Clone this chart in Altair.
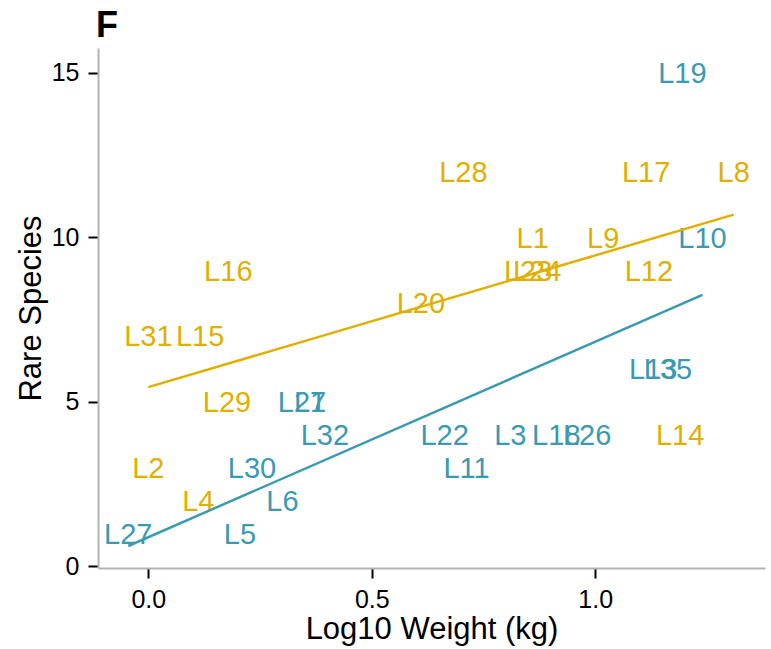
import altair as alt
import pandas as pd

# ---- data ----
labels = ["L16", "L31", "L15", "L28", "L17", "L8", "L1", "L9", "L23", "L24",
          "L12", "L20", "L29", "L2", "L4", "L14",
          "L19", "L10", "L13", "L35", "L21", "L7", "L32", "L30", "L6", "L5",
          "L27", "L22", "L11", "L3", "L18", "L26"]
log_weight = [0.179, 0.0, 0.116, 0.705, 1.114, 1.31, 0.86, 1.018, 0.85, 0.87,
              1.12, 0.61, 0.176, 0.0, 0.112, 1.19,
              1.195, 1.24, 1.13, 1.163, 0.344, 0.362, 0.395, 0.232, 0.30, 0.205,
              -0.045, 0.663, 0.712, 0.81, 0.913, 0.982]
rare_species = [9, 7, 7, 12, 12, 12, 10, 10, 9, 9,
                9, 8, 5, 3, 2, 4,
                15, 10, 6, 6, 5, 5, 4, 3, 2, 1,
                1, 4, 3, 4, 4, 4]
group = ["gold"] * 16 + ["blue"] * 16

group_names = ["gold", "blue"]
group_colors = ["#E1AF00", "#3B9AB2"]
x_ticks = [0.0, 0.5, 1.0]
y_ticks = [0, 5, 10, 15]

df = pd.DataFrame({"label": labels, "x": log_weight, "y": rare_species, "group": group})

color_scale = alt.Scale(domain=group_names, range=group_colors)
FONT = "Liberation Sans"

x_enc = alt.X("x:Q",
              scale=alt.Scale(domain=[-0.1126, 1.38], nice=False, zero=False),
              axis=alt.Axis(values=x_ticks, format=".1f", title="Log10 Weight (kg)",
                            titleY=70, titleBaseline="alphabetic"))
y_enc = alt.Y("y:Q",
              scale=alt.Scale(domain=[-0.06, 15.75], nice=False, zero=False),
              axis=alt.Axis(values=y_ticks, title="Rare Species",
                            titleX=-58, titleY=260, titleBaseline="alphabetic"))

text = alt.Chart(df).mark_text(
    fontSize=29, font=FONT, align="center", baseline="middle", dy=1.5
).encode(
    x=x_enc, y=y_enc, text="label:N",
    color=alt.Color("group:N", scale=color_scale, legend=None),
)

lines = alt.Chart(df).transform_regression(
    "x", "y", groupby=["group"]
).mark_line(strokeWidth=2.5).encode(
    x="x:Q", y="y:Q",
    color=alt.Color("group:N", scale=color_scale, legend=None),
)

chart = alt.layer(text, lines).properties(
    width=667, height=520,
    title=alt.TitleParams("F", anchor="start", fontSize=36, fontWeight="bold",
                          font=FONT, color="black", offset=10, frame="group",
                          baseline="alphabetic", dx=-2, dy=35),
    padding={"left": 98, "top": 48, "right": 6, "bottom": 81},
    autosize="none",
).configure_view(stroke=None).configure_axis(
    grid=False,
    domainColor="#B3B3B3", domainWidth=2,
    tickColor="black", tickWidth=2, tickSize=10,
    labelFont=FONT, labelFontSize=25, labelColor="black", labelPadding=9,
    titleFont=FONT, titleFontSize=31, titleFontWeight="normal", titleColor="black",
)

chart.save("out.html", embed_options={"renderer": "svg", "actions": False})
